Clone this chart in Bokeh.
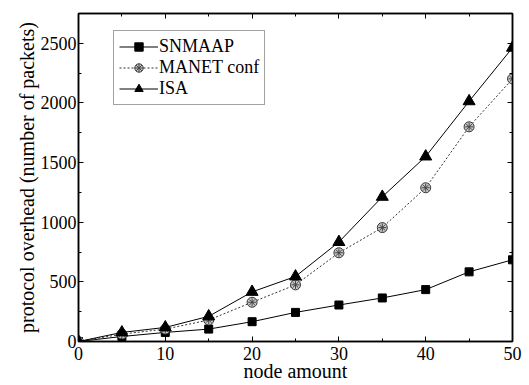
from bokeh.plotting import figure
from bokeh.models import LinearAxis, Range1d, Legend, LegendItem, FixedTicker
from bokeh.embed import file_html
from bokeh.resources import INLINE

nodes = [0, 5, 10, 15, 20, 25, 30, 35, 40, 45, 50]
snmaap = [0, 42, 76, 104, 166, 244, 306, 365, 435, 584, 685]
manet = [0, 62, 104, 180, 329, 475, 744, 955, 1289, 1800, 2202]
isa = [0, 76, 118, 211, 416, 545, 834, 1213, 1551, 2014, 2463]

x_ticks = [0, 10, 20, 30, 40, 50]
y_ticks = [0, 500, 1000, 1500, 2000, 2500]

FONT = "Liberation Serif"

p = figure(width=529, height=385, output_backend="svg", toolbar_location=None,
           x_range=Range1d(0, 50), y_range=Range1d(0, 2750),
           min_border_left=78, min_border_right=17, min_border_top=13, min_border_bottom=44,
           x_axis_label="node amount", y_axis_label="protocol overhead (number of packets)")
p.grid.visible = False
p.outline_line_color = "black"
p.outline_line_width = 1.5
p.background_fill_color = "white"
p.border_fill_color = "white"

def style_axis(ax, labels=True, ticks=None, minor=None):
    ax.ticker = FixedTicker(ticks=ticks, minor_ticks=minor)
    ax.axis_line_color = "black"
    ax.axis_line_width = 1.5
    ax.major_tick_in = 5
    ax.major_tick_out = 0
    ax.minor_tick_in = 3
    ax.minor_tick_out = 0
    ax.major_tick_line_color = "black"
    ax.minor_tick_line_color = "black"
    ax.major_label_text_font = FONT
    ax.major_label_text_font_size = "18px"
    ax.major_label_text_color = "black"
    ax.axis_label_text_font = FONT
    ax.axis_label_text_font_size = "20px"
    ax.axis_label_text_font_style = "normal"
    ax.axis_label_text_color = "black"
    if not labels:
        ax.major_label_text_alpha = 0
        ax.major_label_text_font_size = "1px"

xminor = [5, 15, 25, 35, 45]
yminor = [250, 750, 1250, 1750, 2250, 2750]
style_axis(p.xaxis[0], True, x_ticks, xminor)
style_axis(p.yaxis[0], True, y_ticks, yminor)
p.xaxis[0].major_label_standoff = 5
p.xaxis[0].axis_label_standoff = -3
p.yaxis[0].major_label_standoff = 2
p.yaxis[0].axis_label_standoff = 0

top = LinearAxis()
right = LinearAxis()
style_axis(top, False, x_ticks, xminor)
style_axis(right, False, y_ticks, yminor)
p.add_layout(top, "above")
p.add_layout(right, "right")

l1 = p.line(nodes, snmaap, line_color="black", line_width=1)
m1 = p.scatter(nodes, snmaap, marker="square", size=8, fill_color="black", line_color="black")

l2 = p.line(nodes, manet, line_color="#333333", line_width=1, line_dash="2 2")
m2 = p.scatter(nodes, manet, marker="circle", size=10, fill_color="#c8c8c8", line_color="#333333", line_width=1)
m2b = p.scatter(nodes, manet, marker="asterisk", size=8, line_color="#444444", line_width=1)

l3 = p.line(nodes, isa, line_color="black", line_width=1)
m3 = p.scatter(nodes, isa, marker="triangle", size=12, fill_color="black", line_color="black")

legend = Legend(items=[
    LegendItem(label="SNMAAP", renderers=[l1, m1]),
    LegendItem(label="MANET conf", renderers=[l2, m2, m2b]),
    LegendItem(label="ISA", renderers=[l3, m3]),
], location=(35, 236))
legend.label_text_font = FONT
legend.label_text_font_size = "18px"
legend.label_text_font_style = "normal"
legend.label_text_color = "black"
legend.glyph_width = 39
legend.glyph_height = 21
legend.label_height = 21
legend.label_standoff = 1
legend.spacing = 0
legend.padding = 5
legend.margin = 0
legend.border_line_color = "#444444"
legend.border_line_width = 1
legend.background_fill_alpha = 1
p.add_layout(legend, "center")

open("out.html", "w").write(file_html(p, INLINE))
